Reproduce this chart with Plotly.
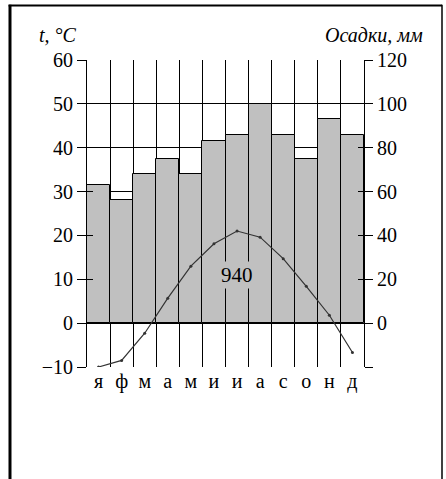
import plotly.graph_objects as go

months = ["я", "ф", "м", "а", "м", "и", "и", "а", "с", "о", "н", "д"]
temperature = [-10.0, -8.5, -2.3, 5.7, 13.0, 18.1, 21.0, 19.6, 14.7, 8.4, 1.8, -6.7]
precipitation = [63, 56, 68, 75, 68, 83, 86, 100, 86, 75, 93, 86]
annual_total = "940"
temp_ticks = [-10, 0, 10, 20, 30, 40, 50, 60]
temp_ticktext = ["−10", "0", "10", "20", "30", "40", "50", "60"]
prec_ticks = [-20, 0, 20, 40, 60, 80, 100, 120]
prec_ticktext = ["", "0", "20", "40", "60", "80", "100", "120"]
grid_ticks = [0, 20, 40, 60, 80, 100]

FONT = "Liberation Serif"
x = list(range(len(months)))

fig = go.Figure()
# precipitation bars on main (right) axis
fig.add_trace(go.Bar(
    x=x, y=precipitation, yaxis="y", base=0,
    marker=dict(color="#c0c0c0", line=dict(color="black", width=1)),
    showlegend=False, hoverinfo="skip"))
# temperature line on left axis (overlay, drawn above bars)
fig.add_trace(go.Scatter(
    x=x, y=temperature, yaxis="y2", mode="lines+markers",
    line=dict(color="#333333", width=1.2),
    marker=dict(color="#333333", size=3),
    showlegend=False, hoverinfo="skip"))
# empty helpers to attach extra overlay axes
for ax in ["y3", "y4", "y5"]:
    fig.add_trace(go.Scatter(x=[], y=[], yaxis=ax, showlegend=False, hoverinfo="skip"))

fig.update_layout(
    width=446, height=479,
    margin=dict(l=87, r=82, t=60, b=112),
    paper_bgcolor="white", plot_bgcolor="white",
    bargap=0,
    font=dict(family=FONT, size=20, color="black"),
    xaxis=dict(
        range=[-0.5, 11.5], tickmode="array", tickvals=x, ticktext=months,
        showgrid=False, zeroline=False, showline=False, ticks="",
        tickfont=dict(family=FONT, size=20),
        minor=dict(tickmode="linear", tick0=-0.5, dtick=1, showgrid=True,
                   gridcolor="black", gridwidth=1, ticks=""),
    ),
    yaxis=dict(
        side="right", range=[-20, 120], tickmode="array",
        tickvals=prec_ticks, ticktext=prec_ticktext,
        ticks="outside", ticklen=8, tickcolor="black", tickwidth=1,
        showgrid=False, zeroline=False, showline=True, linecolor="black", linewidth=1,
        tickfont=dict(family=FONT, size=20),
    ),
    yaxis2=dict(
        overlaying="y", side="left", range=[-10, 60], tickmode="array",
        tickvals=temp_ticks, ticktext=temp_ticktext,
        ticks="outside", ticklen=9, tickcolor="black", tickwidth=1,
        showgrid=False, zeroline=False, showline=True, linecolor="black", linewidth=1,
        tickfont=dict(family=FONT, size=20),
    ),
    yaxis3=dict(
        overlaying="y", side="left", range=[-10, 60], tickmode="array",
        tickvals=temp_ticks, ticks="inside", ticklen=6, tickcolor="black",
        showticklabels=False, showgrid=False, zeroline=False, showline=False,
    ),
    yaxis4=dict(
        overlaying="y", side="right", range=[-20, 120], tickmode="array",
        tickvals=prec_ticks, ticks="inside", ticklen=6, tickcolor="black",
        showticklabels=False, showgrid=False, zeroline=False, showline=False,
    ),
    yaxis5=dict(
        overlaying="y", side="right", range=[-20, 120], tickmode="array",
        tickvals=grid_ticks, ticks="", showticklabels=False,
        showgrid=True, gridcolor="black", gridwidth=1, zeroline=False, showline=False,
    ),
)

fig.add_annotation(x=6, y=11, xref="x", yref="y2", text=annual_total, showarrow=False,
                   bgcolor="#c0c0c0", font=dict(family=FONT, size=21), borderpad=1)
fig.add_annotation(x=-0.105, y=1.081, xref="paper", yref="paper", text="<i>t, °C</i>",
                   xanchor="center", yanchor="middle",
                   showarrow=False, font=dict(family=FONT, size=20))
fig.add_annotation(x=1.036, y=1.081, xref="paper", yref="paper", text="<i>Осадки, мм</i>",
                   xanchor="center", yanchor="middle",
                   showarrow=False, font=dict(family=FONT, size=20))

# frame lines of the surrounding cell
fig.add_shape(type="line", xref="paper", yref="paper", x0=-0.278, x1=-0.278, y0=1.18, y1=-0.4,
              line=dict(color="black", width=3))
fig.add_shape(type="line", xref="paper", yref="paper", x0=-0.283, x1=1.2816, y0=1.1774, y1=1.1774,
              line=dict(color="black", width=2))
fig.add_shape(type="line", xref="paper", yref="paper", x0=1.2816, x1=1.2816, y0=1.18, y1=-0.4,
              line=dict(color="black", width=1.5))

fig.write_html("out.html", config={"displayModeBar": False},
               post_script="document.body.style.margin='0';")
